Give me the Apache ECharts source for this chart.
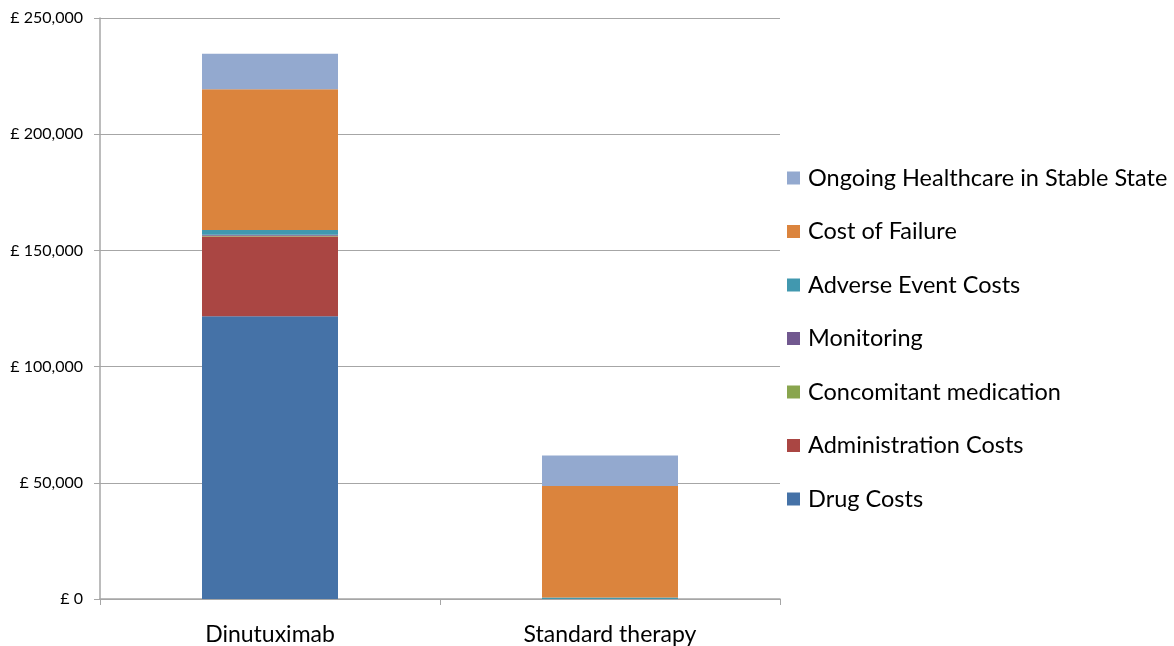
<!DOCTYPE html>
<html>
<head>
<meta charset="utf-8">
<script src="https://cdn.jsdelivr.net/npm/echarts@6/dist/echarts.min.js"></script>
<style>
  html, body { margin: 0; padding: 0; background: #fff; }
  #chart { width: 1174px; height: 646px; }
</style>
</head>
<body>
<div id="chart"></div>
<script>
// Treatment arms compared
const categories = ['Dinutuximab', 'Standard therapy'];

// Cost components (GBP) per arm, bottom of stack first
const drugCosts = [121700, 0];
const administrationCosts = [34300, 0];
const concomitantMedication = [300, 0];
const monitoring = [400, 0];
const adverseEventCosts = [2100, 600];
const costOfFailure = [60500, 48000];
const ongoingHealthcare = [15300, 13200];

const seriesNames = [
  'Drug Costs',
  'Administration Costs',
  'Concomitant medication',
  'Monitoring',
  'Adverse Event Costs',
  'Cost of Failure',
  'Ongoing Healthcare in Stable State'
];
const seriesValues = [
  drugCosts, administrationCosts, concomitantMedication, monitoring,
  adverseEventCosts, costOfFailure, ongoingHealthcare
];
const seriesColors = ['#4572a7', '#aa4643', '#89a54e', '#71588f', '#4198af', '#db843d', '#93a9cf'];

// Value axis ticks
const yTicks = [0, 50000, 100000, 150000, 200000, 250000];

const font = 'Lato, "Open Sans", sans-serif';

const chart = echarts.init(document.getElementById('chart'));
chart.setOption({
  animation: false,
  backgroundColor: '#ffffff',
  grid: { left: 100, right: 394, top: 18, bottom: 46, containLabel: false },
  legend: {
    orient: 'vertical',
    left: 782,
    top: 160,
    data: seriesNames.slice().reverse(),
    icon: 'rect',
    itemWidth: 13,
    itemHeight: 13,
    itemGap: 27.5,
    textStyle: { fontFamily: font, fontSize: 23.5, color: '#000', lineHeight: 26, padding: [0, 0, 0, 3] }
  },
  xAxis: {
    type: 'category',
    data: categories,
    axisLine: { lineStyle: { color: '#a6a6a6', width: 1.5 } },
    axisTick: { show: true, length: 6, lineStyle: { color: '#a6a6a6' } },
    axisLabel: { fontFamily: font, fontSize: 23, color: '#000', margin: 24 }
  },
  yAxis: {
    type: 'value',
    min: yTicks[0],
    max: yTicks[yTicks.length - 1],
    interval: yTicks[1] - yTicks[0],
    axisLine: { show: true, lineStyle: { color: '#a6a6a6', width: 1.5 } },
    axisTick: { show: true, length: 6, lineStyle: { color: '#a6a6a6' } },
    splitLine: { show: true, lineStyle: { color: '#a6a6a6', width: 1.2 } },
    axisLabel: {
      fontFamily: font, fontSize: 16, color: '#000', margin: 17,
      formatter: v => '£ ' + v.toLocaleString('en-GB')
    }
  },
  series: seriesNames.map((name, i) => ({
    name,
    type: 'bar',
    stack: 'cost',
    barWidth: '40%',
    data: seriesValues[i],
    itemStyle: { color: seriesColors[i] }
  }))
});
</script>
</body>
</html>
